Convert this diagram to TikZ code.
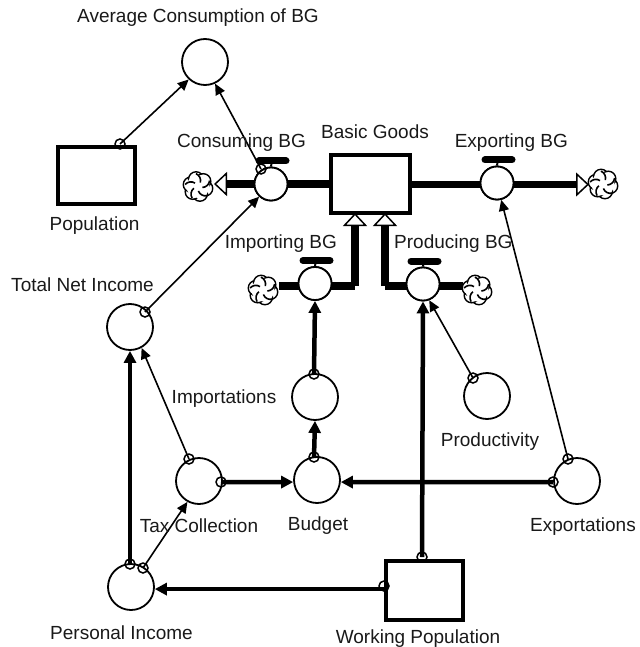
\documentclass[tikz,border=0pt]{standalone}
\usepackage{fontspec}
\setmainfont{Liberation Sans}
\usetikzlibrary{arrows.meta}

\tikzset{
  lbl/.style={font=\fontsize{19}{21}\selectfont,text=black!90,inner sep=0pt},
  aux/.style={circle,draw,line width=1.8pt,minimum size=46pt,inner sep=0pt},
  valve/.style={circle,draw,fill=white,line width=1.8pt,minimum size=33pt,inner sep=0pt},
  stock/.style={rectangle,draw,line width=4pt,inner sep=0pt},
  tie/.style={circle,draw,line width=1.5pt,minimum size=10pt,inner sep=0pt},
  thinlink/.style={line width=1.6pt,-{Triangle[length=11pt,width=10pt]}},
  thicklink/.style={line width=4.5pt,-{Triangle[length=12pt,width=12pt]}},
  pipe/.style={line width=7.5pt},
  pipeend/.style={line width=7.5pt,-{Triangle[open,fill=white,length=13pt,width=24pt,line width=1.5pt,sep=0pt]}},
  cloud/.pic={
    \foreach \a in {0,60,...,300}
      \draw[line width=1.4pt,fill=white] (\a+15:7.5) circle (7.5);
    \fill[white] (0,0) circle (11.5);
    \foreach \a in {0,72,...,288}
      \draw[line width=1.6pt] (\a+45:13) to[bend left=40] (\a+85:4.5);
  }
}

\begin{document}
\begin{tikzpicture}[x=1pt,y=-1pt]
  \useasboundingbox (0,0) rectangle (639,647);

  % Stocks
  \node[stock,minimum width=77pt,minimum height=57pt] (population) at (96.5,175.5) {};
  \node[stock,minimum width=79pt,minimum height=58pt] (basicGoods) at (370.5,184) {};
  \node[stock,minimum width=77pt,minimum height=59pt] (workingPop) at (424.5,590.5) {};

  % Converters
  \node[aux] (avgCons) at (205,62) {};
  \node[aux] (totalNet) at (130,327) {};
  \node[aux] (importations) at (315,397) {};
  \node[aux] (productivity) at (487,396) {};
  \node[aux] (taxColl) at (199,481) {};
  \node[aux] (budget) at (317,480) {};
  \node[aux] (exportations) at (577,481) {};
  \node[aux] (personal) at (131,587) {};

  % Free ends of the pipes
  \coordinate (impIn) at (355,213);
  \coordinate (prodIn) at (385,213);
  \coordinate (impBend) at (355,286);
  \coordinate (prodBend) at (385,286);
  \coordinate (consOut) at (214,184);
  \coordinate (expOut) at (589,184.5);

  % Flows
  \node[valve] (consValve) at (271,184) {};
  \node[valve] (impValve) at (315,283.5) {};
  \node[valve] (prodValve) at (423,284) {};
  \node[valve] (expValve) at (497,183) {};

  \draw[pipeend] (basicGoods.west) -- (consOut);
  \draw[pipeend] (basicGoods.east |- expOut) -- (expOut);
  \draw[pipe] (279,286) -- (impBend);
  \draw[pipeend] (impBend) -- (impIn);
  \draw[pipe] (463,286) -- (prodBend);
  \draw[pipeend] (prodBend) -- (prodIn);

  % Valves again, over the pipes
  \foreach \v in {consValve,impValve,prodValve,expValve} {
    \node[valve] at (\v) {};
    \draw[line width=2pt] (\v.north) -- ++(1,-6);
    \draw[line width=7pt,line cap=round] ([shift={(-12,-23)}]\v.center) -- ++(27,0);
  }

  % Clouds
  \pic at (198,186.5) {cloud};
  \pic at (263,290) {cloud};
  \pic at (477,290) {cloud};
  \pic at (603,184) {cloud};

  % Ties on the sources of the connectors
  \node[tie] (popTie) at (120,144) {};
  \node[tie] (consTie) at (261,169) {};
  \node[tie] (netTie) at (145,312) {};
  \node[tie] (importTie) at (314,374) {};
  \node[tie] (budgetTie) at (314,457) {};
  \node[tie] (taxTieA) at (189,459) {};
  \node[tie] (taxTieB) at (221,482) {};
  \node[tie] (prodTie) at (473,378) {};
  \node[tie] (expTieA) at (568,459) {};
  \node[tie] (expTieB) at (553,482) {};
  \node[tie] (persTieA) at (130,564) {};
  \node[tie] (persTieB) at (143,568) {};
  \node[tie] (workTieA) at (422,557) {};
  \node[tie] (workTieB) at (384,586) {};

  % Thin connectors
  \draw[thinlink] (popTie.center) -- (avgCons.227);
  \draw[thinlink] (consTie.center) -- (avgCons.295);
  \draw[thinlink] (netTie.center) -- (consValve.227);
  \draw[thinlink] (taxTieA.center) -- (totalNet.299);
  \draw[thinlink] (persTieB.center) -- (taxColl.241);
  \draw[thinlink] (prodTie.center) -- (prodValve.291);
  \draw[thinlink] (expTieA.center) -- (expValve.284);

  % Thick connectors
  \draw[thicklink] (importTie.center) -- (impValve.south);
  \draw[thicklink] (budgetTie.center) -- (importations.south);
  \draw[thicklink] (taxTieB.center) -- (budget.185);
  \draw[thicklink] (expTieB.center) -- (budget.355);
  \draw[thicklink] (persTieA.center) -- (totalNet.south);
  \draw[thicklink] (workTieA.center) -- (prodValve.south);
  \draw[thicklink] (workTieB.center |- personal.355) -- (personal.355);

  % Labels
  \node[lbl] (avgLabel) at (198,18) {Average Consumption of BG};
  \node[lbl] (popLabel) at (94.5,226) {Population};
  \node[lbl] (consLabel) at (241.5,143) {Consuming BG};
  \node[lbl] (basicLabel) at (375,132) {Basic Goods};
  \node[lbl,anchor=east] (expLabel) at (568,143) {Exporting BG};
  \node[lbl,anchor=east] (impLabel) at (337,244) {Importing BG};
  \node[lbl,anchor=west] (prodLabel) at (394,244) {Producing BG};
  \node[lbl,anchor=east] (netLabel) at (154,285) {Total Net Income};
  \node[lbl] (importLabel) at (224,399) {Importations};
  \node[lbl] (productLabel) at (490,442) {Productivity};
  \node[lbl] (taxLabel) at (199,526) {Tax Collection};
  \node[lbl] (budgetLabel) at (318,526) {Budget};
  \node[lbl] (exportLabel) at (583,527) {Exportations};
  \node[lbl] (persLabel) at (121.5,633) {Personal Income};
  \node[lbl] (workLabel) at (418,639) {Working Population};
\end{tikzpicture}
\end{document}
